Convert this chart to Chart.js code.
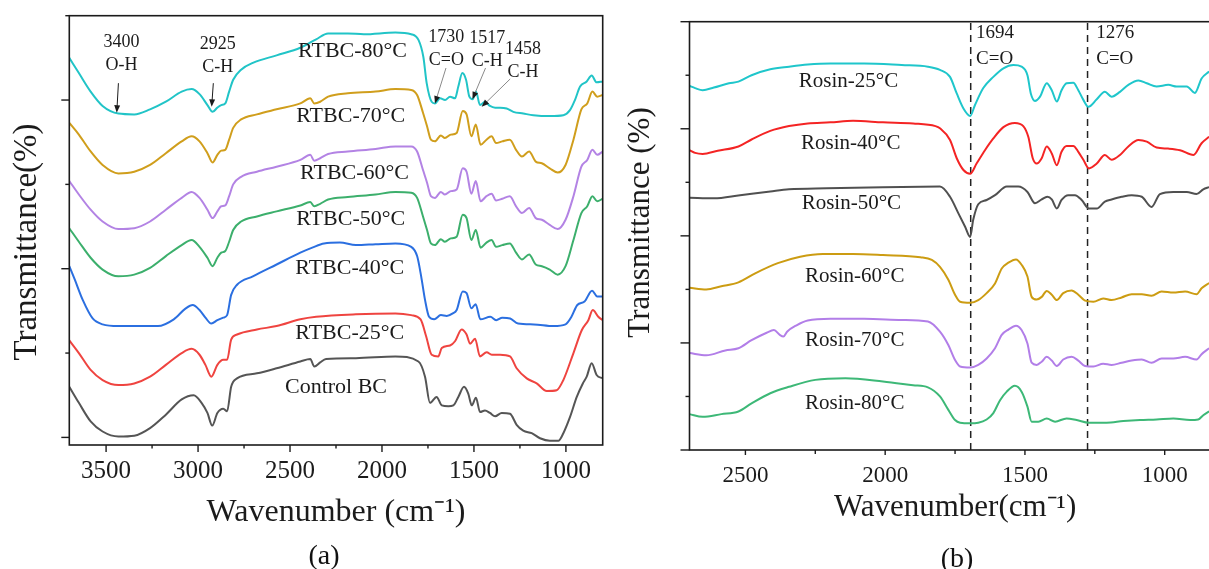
<!DOCTYPE html>
<html lang="en">
<head>
<meta charset="utf-8">
<title>FTIR spectra of RTBC and rosin</title>
<script src="https://cdn.jsdelivr.net/npm/chart.js@4.4.1/dist/chart.umd.min.js"></script>
<style>
  html, body { margin: 0; padding: 0; background: #fff; }
  body { position: relative; width: 1209px; height: 569px; overflow: hidden; }
  canvas { position: absolute; top: 0; }
  #chartA { left: 0; }
  #chartB { left: 620px; }
  .panel-tag {
    position: absolute;
    font: 28px 'Liberation Serif', 'Times New Roman', serif;
    color: #111;
    transform: translate(-50%, -50%);
  }
</style>
</head>
<body>
<canvas id="chartA" width="640" height="569"></canvas>
<canvas id="chartB" width="640" height="569"></canvas>
<div class="panel-tag" style="left:324px;top:555px">(a)</div>
<div class="panel-tag" style="left:957px;top:558px">(b)</div>
<script>
// ---------- Panel (a): RTBC series and control BC (wavenumber, cm-1 / offset transmittance) ----------
const wnRTBC80 = [3700, 3648, 3584, 3519, 3433, 3347, 3261, 3175, 3089, 3035, 2992, 2949, 2921, 2895, 2874, 2852,
  2831, 2809, 2766, 2702, 2573, 2444, 2358, 2293, 2186, 2099, 1927, 1841, 1801, 1775, 1757, 1730, 1712, 1684, 1657,
  1630, 1603, 1585, 1563, 1543, 1525, 1507, 1489, 1467, 1440, 1413, 1385, 1358, 1322, 1286, 1232, 1177, 1087, 1014,
  978, 951, 923, 887, 860, 833, 800];
const tRTBC80 = [4.50, 4.32, 4.10, 3.93, 3.84, 3.83, 3.89, 3.98, 4.10, 4.13, 4.07, 3.94, 3.86, 3.91, 3.94, 3.96,
  4.10, 4.24, 4.36, 4.44, 4.53, 4.62, 4.72, 4.79, 4.79, 4.78, 4.80, 4.78, 4.71, 4.51, 4.20, 3.98, 3.96, 4.02, 4.00,
  4.04, 4.02, 4.16, 4.32, 4.24, 4.04, 4.01, 4.10, 3.94, 3.98, 3.93, 3.91, 3.91, 3.90, 3.86, 3.84, 3.82, 3.81, 3.82,
  3.88, 4.00, 4.16, 4.22, 4.29, 4.21, 4.22];

// 70, 60 and 50 °C were read at the same wavenumbers
const wnRTBCmid = [3700, 3648, 3584, 3519, 3433, 3347, 3261, 3175, 3089, 3035, 2992, 2949, 2921, 2895, 2874, 2852,
  2831, 2809, 2766, 2680, 2573, 2444, 2390, 2368, 2336, 2293, 2186, 2035, 1927, 1841, 1809, 1777, 1755, 1734, 1712,
  1680, 1658, 1626, 1594, 1561, 1540, 1514, 1490, 1464, 1432, 1404, 1380, 1346, 1305, 1271, 1239, 1200, 1164, 1131,
  1088, 1045, 1002, 959, 916, 884, 856, 830, 800];
const tRTBC70 = [3.73, 3.59, 3.39, 3.23, 3.13, 3.15, 3.23, 3.37, 3.51, 3.57, 3.51, 3.37, 3.26, 3.35, 3.40, 3.41,
  3.53, 3.67, 3.77, 3.83, 3.89, 3.96, 4.02, 3.96, 3.98, 4.04, 4.08, 4.10, 4.13, 4.12, 4.06, 3.85, 3.69, 3.53, 3.51,
  3.58, 3.55, 3.59, 3.61, 3.87, 3.83, 3.57, 3.71, 3.47, 3.53, 3.57, 3.49, 3.51, 3.53, 3.41, 3.33, 3.39, 3.27, 3.25,
  3.19, 3.14, 3.23, 3.53, 3.89, 3.96, 4.10, 4.04, 4.06];
const tRTBC60 = [3.04, 2.88, 2.70, 2.56, 2.47, 2.48, 2.56, 2.70, 2.84, 2.91, 2.84, 2.70, 2.60, 2.68, 2.74, 2.75,
  2.86, 3.00, 3.09, 3.15, 3.21, 3.29, 3.35, 3.28, 3.31, 3.36, 3.39, 3.42, 3.45, 3.45, 3.39, 3.17, 3.02, 2.86, 2.84,
  2.91, 2.88, 2.92, 2.94, 3.19, 3.15, 2.89, 3.04, 2.80, 2.86, 2.89, 2.81, 2.83, 2.86, 2.74, 2.66, 2.72, 2.60, 2.58,
  2.52, 2.47, 2.58, 2.86, 3.21, 3.29, 3.41, 3.35, 3.39];
const tRTBC50 = [2.48, 2.32, 2.13, 1.99, 1.91, 1.93, 2.01, 2.15, 2.28, 2.34, 2.26, 2.13, 2.03, 2.13, 2.19, 2.21,
  2.32, 2.46, 2.56, 2.62, 2.68, 2.75, 2.79, 2.74, 2.77, 2.82, 2.85, 2.88, 2.91, 2.90, 2.84, 2.62, 2.46, 2.30, 2.28,
  2.35, 2.32, 2.36, 2.38, 2.64, 2.60, 2.34, 2.46, 2.25, 2.31, 2.34, 2.26, 2.28, 2.30, 2.19, 2.11, 2.17, 2.05, 2.03,
  1.99, 1.93, 2.03, 2.34, 2.66, 2.74, 2.86, 2.80, 2.83];

const wnRTBC40 = [3700, 3670, 3627, 3573, 3519, 3433, 3218, 3132, 3067, 3029, 2992, 2960, 2928, 2895, 2863, 2842,
  2820, 2788, 2702, 2573, 2444, 2379, 2315, 2229, 2142, 2035, 1927, 1841, 1809, 1787, 1766, 1744, 1716, 1680, 1648,
  1615, 1594, 1561, 1540, 1514, 1491, 1465, 1411, 1379, 1346, 1303, 1260, 1174, 1067, 1002, 970, 938, 899, 858, 830, 800];
const tRTBC40 = [2.03, 1.87, 1.63, 1.41, 1.34, 1.32, 1.32, 1.40, 1.53, 1.57, 1.51, 1.42, 1.35, 1.39, 1.42, 1.45,
  1.69, 1.81, 1.91, 2.05, 2.19, 2.25, 2.30, 2.31, 2.28, 2.29, 2.30, 2.26, 2.15, 1.91, 1.63, 1.43, 1.40, 1.45, 1.44,
  1.47, 1.51, 1.73, 1.71, 1.53, 1.58, 1.40, 1.43, 1.39, 1.42, 1.41, 1.35, 1.34, 1.32, 1.34, 1.43, 1.57, 1.61, 1.74, 1.67, 1.67];

const wnRTBC25 = [3700, 3648, 3584, 3519, 3433, 3347, 3261, 3175, 3089, 3035, 2992, 2960, 2928, 2895, 2863, 2842,
  2820, 2788, 2680, 2573, 2444, 2358, 2142, 1927, 1841, 1790, 1760, 1730, 1694, 1675, 1630, 1603, 1567, 1540, 1521,
  1494, 1467, 1431, 1403, 1358, 1304, 1268, 1213, 1159, 1104, 1050, 1014, 959, 914, 878, 854, 824, 800];
const tRTBC25 = [1.15, 1.00, 0.80, 0.68, 0.62, 0.64, 0.72, 0.86, 1.00, 1.05, 0.98, 0.86, 0.72, 0.86, 0.92, 0.92,
  1.16, 1.22, 1.28, 1.32, 1.40, 1.43, 1.46, 1.47, 1.45, 1.40, 1.20, 0.98, 0.96, 1.06, 1.09, 1.14, 1.28, 1.22, 1.11,
  1.17, 0.96, 1.01, 0.98, 0.98, 0.96, 0.82, 0.70, 0.64, 0.55, 0.56, 0.68, 1.00, 1.27, 1.39, 1.51, 1.43, 1.39];

const wnControl = [3700, 3648, 3584, 3519, 3433, 3347, 3261, 3175, 3089, 3024, 2981, 2949, 2923, 2895, 2863, 2842,
  2820, 2788, 2680, 2573, 2444, 2390, 2368, 2336, 2304, 2142, 1927, 1802, 1766, 1739, 1703, 1675, 1639, 1612, 1585,
  1554, 1531, 1512, 1489, 1467, 1440, 1413, 1385, 1349, 1304, 1268, 1232, 1186, 1141, 1087, 1041, 1014, 978, 941,
  908, 887, 860, 833, 800];
const tControl = [0.60, 0.41, 0.19, 0.07, 0.01, 0.02, 0.11, 0.27, 0.45, 0.50, 0.41, 0.29, 0.14, 0.29, 0.34, 0.31,
  0.60, 0.70, 0.76, 0.82, 0.90, 0.93, 0.84, 0.89, 0.93, 0.94, 0.96, 0.90, 0.72, 0.41, 0.48, 0.38, 0.37, 0.38, 0.48,
  0.60, 0.52, 0.38, 0.47, 0.30, 0.32, 0.29, 0.25, 0.29, 0.28, 0.15, 0.08, 0.05, -0.01, -0.04, -0.04, 0.05, 0.24, 0.48,
  0.64, 0.72, 0.88, 0.74, 0.70];

const ticksA = [3500, 3000, 2500, 2000, 1500, 1000];
const minorTicksA = [3250, 2750, 2250, 1750, 1250];

// ---------- Panel (b): rosin series ----------
const wnRosin25 = [2700, 2680, 2653, 2613, 2559, 2525, 2478, 2411, 2344, 2277, 2196, 2075, 1941, 1847, 1804, 1768,
  1744, 1720, 1696, 1679, 1649, 1613, 1577, 1541, 1512, 1491, 1479, 1464, 1446, 1422, 1404, 1386, 1369, 1351, 1327,
  1309, 1291, 1273, 1243, 1214, 1190, 1160, 1130, 1094, 1064, 1029, 987, 957, 921, 892, 868, 841];
const tRosin25 = [6.80, 6.76, 6.72, 6.77, 6.85, 6.88, 7.00, 7.11, 7.16, 7.20, 7.22, 7.22, 7.19, 7.16, 7.10, 6.97,
  6.66, 6.38, 6.24, 6.44, 6.76, 6.97, 7.13, 7.19, 7.16, 7.00, 6.66, 6.52, 6.60, 6.85, 6.72, 6.51, 6.72, 6.85, 6.86,
  6.72, 6.54, 6.41, 6.55, 6.69, 6.60, 6.69, 6.82, 6.90, 6.85, 6.79, 6.82, 6.79, 6.79, 6.67, 6.94, 7.07];

const wnRosin40 = [2700, 2680, 2653, 2599, 2525, 2478, 2411, 2344, 2277, 2196, 2115, 2008, 1900, 1820, 1804, 1768,
  1744, 1720, 1696, 1673, 1643, 1613, 1577, 1536, 1506, 1488, 1472, 1458, 1440, 1422, 1404, 1386, 1369, 1351, 1327,
  1309, 1291, 1271, 1243, 1214, 1190, 1160, 1130, 1094, 1064, 1029, 987, 945, 897, 868, 841];
const tRosin40 = [5.60, 5.55, 5.53, 5.59, 5.67, 5.80, 5.96, 6.05, 6.10, 6.12, 6.15, 6.12, 6.10, 6.05, 6.01, 5.79,
  5.45, 5.23, 5.16, 5.35, 5.60, 5.82, 6.03, 6.11, 6.05, 5.85, 5.45, 5.35, 5.45, 5.67, 5.54, 5.32, 5.57, 5.68, 5.68,
  5.57, 5.42, 5.26, 5.35, 5.51, 5.42, 5.51, 5.67, 5.79, 5.76, 5.65, 5.63, 5.60, 5.51, 5.73, 5.85];

const wnRosin50 = [2700, 2613, 2519, 2411, 2344, 2209, 2008, 1804, 1768, 1738, 1714, 1696, 1685, 1667, 1637, 1607,
  1565, 1524, 1491, 1464, 1440, 1420, 1404, 1386, 1369, 1345, 1321, 1297, 1271, 1243, 1214, 1190, 1154, 1118, 1082,
  1047, 1017, 969, 921, 886, 862, 841];
const tRosin50 = [4.71, 4.70, 4.76, 4.83, 4.87, 4.89, 4.91, 4.92, 4.73, 4.42, 4.17, 3.98, 4.30, 4.59, 4.67, 4.76,
  4.92, 4.92, 4.82, 4.61, 4.68, 4.73, 4.68, 4.51, 4.67, 4.76, 4.76, 4.67, 4.51, 4.51, 4.64, 4.68, 4.73, 4.76, 4.73,
  4.54, 4.78, 4.82, 4.82, 4.78, 4.87, 4.91];

const wnRosin60 = [2700, 2640, 2586, 2525, 2465, 2384, 2304, 2223, 2115, 2008, 1874, 1833, 1804, 1774, 1750, 1732,
  1696, 1667, 1637, 1607, 1583, 1559, 1532, 1512, 1491, 1476, 1458, 1440, 1422, 1404, 1386, 1363, 1333, 1309, 1285,
  1255, 1220, 1190, 1154, 1118, 1082, 1047, 1011, 969, 927, 886, 868, 841];
const tRosin60 = [3.03, 3.00, 3.06, 3.13, 3.30, 3.49, 3.61, 3.66, 3.66, 3.64, 3.60, 3.55, 3.42, 3.18, 2.90, 2.77,
  2.75, 2.80, 2.93, 3.11, 3.39, 3.50, 3.56, 3.46, 3.24, 2.86, 2.81, 2.86, 2.97, 2.90, 2.80, 2.93, 2.98, 2.90, 2.79,
  2.77, 2.83, 2.80, 2.85, 2.91, 2.91, 2.88, 2.96, 2.94, 2.96, 2.91, 3.02, 3.12];

const wnRosin70 = [2700, 2640, 2572, 2525, 2478, 2424, 2398, 2377, 2364, 2351, 2317, 2277, 2196, 2075, 1941, 1847,
  1804, 1774, 1750, 1732, 1696, 1667, 1637, 1607, 1583, 1559, 1532, 1512, 1491, 1476, 1458, 1440, 1422, 1404, 1386,
  1363, 1333, 1309, 1285, 1255, 1220, 1190, 1154, 1118, 1082, 1047, 1011, 969, 927, 886, 868, 841];
const tRosin70 = [1.81, 1.77, 1.86, 1.90, 2.05, 2.19, 2.24, 2.15, 2.12, 2.21, 2.33, 2.42, 2.45, 2.45, 2.43, 2.40,
  2.21, 1.96, 1.68, 1.56, 1.54, 1.59, 1.71, 1.90, 2.15, 2.25, 2.32, 2.24, 1.99, 1.63, 1.59, 1.65, 1.74, 1.67, 1.57,
  1.69, 1.74, 1.67, 1.57, 1.56, 1.61, 1.59, 1.63, 1.67, 1.69, 1.63, 1.71, 1.71, 1.74, 1.69, 1.79, 1.90];

const wnRosin80 = [2700, 2653, 2586, 2525, 2478, 2411, 2344, 2250, 2142, 2008, 1900, 1847, 1804, 1774, 1750, 1732,
  1696, 1667, 1637, 1613, 1589, 1565, 1536, 1512, 1491, 1476, 1452, 1422, 1392, 1351, 1315, 1271, 1208, 1148, 1088,
  1029, 969, 909, 880, 862, 841];
const tRosin80 = [0.67, 0.62, 0.67, 0.72, 0.87, 1.06, 1.18, 1.31, 1.34, 1.28, 1.21, 1.17, 1.00, 0.75, 0.56, 0.51,
  0.50, 0.51, 0.57, 0.69, 0.93, 1.09, 1.20, 1.09, 0.81, 0.53, 0.53, 0.59, 0.53, 0.59, 0.56, 0.51, 0.51, 0.54, 0.56,
  0.57, 0.59, 0.56, 0.57, 0.65, 0.72];

const ticksB = [2500, 2000, 1500, 1000];
const minorTicksB = [2250, 1750, 1250];
const bandLinesB = [1694, 1276];

// ---------- styling ----------
const SERIF = "'Liberation Serif', 'Times New Roman', serif";
const INK = '#1b1b1b';

const seriesA = [
  { name: 'RTBC-80°C', wn: wnRTBC80, t: tRTBC80, color: '#21c4c7', tag: [2160, 4.58] },
  { name: 'RTBC-70°C', wn: wnRTBCmid, t: tRTBC70, color: '#d09e1c', tag: [2170, 3.81] },
  { name: 'RTBC-60°C', wn: wnRTBCmid, t: tRTBC60, color: '#b383e4', tag: [2149, 3.13] },
  { name: 'RTBC-50°C', wn: wnRTBCmid, t: tRTBC50, color: '#3caf6c', tag: [2170, 2.59] },
  { name: 'RTBC-40°C', wn: wnRTBC40, t: tRTBC40, color: '#2b6fe0', tag: [2175, 2.01] },
  { name: 'RTBC-25°C', wn: wnRTBC25, t: tRTBC25, color: '#ef4440', tag: [2175, 1.24] },
  { name: 'Control BC', wn: wnControl, t: tControl, color: '#555555', tag: [2250, 0.60] },
];

const seriesB = [
  { name: 'Rosin-25°C', wn: wnRosin25, t: tRosin25, color: '#1fc6cb', tag: [2131, 6.88] },
  { name: 'Rosin-40°C', wn: wnRosin40, t: tRosin40, color: '#f42424', tag: [2123, 5.72] },
  { name: 'Rosin-50°C', wn: wnRosin50, t: tRosin50, color: '#505050', tag: [2121, 4.60] },
  { name: 'Rosin-60°C', wn: wnRosin60, t: tRosin60, color: '#cc9c12', tag: [2109, 3.25] },
  { name: 'Rosin-70°C', wn: wnRosin70, t: tRosin70, color: '#b27ee8', tag: [2109, 2.04] },
  { name: 'Rosin-80°C', wn: wnRosin80, t: tRosin80, color: '#3db877', tag: [2109, 0.87] },
];

// band notes: text centre (wn), text rows (t), optional arrow from -> to
const notesA = [
  { num: '3400', bond: 'O-H', wn: 3416, rows: [4.68, 4.41], from: [3433, 4.20], to: [3442, 3.85], stroke: INK },
  { num: '2925', bond: 'C-H', wn: 2893, rows: [4.66, 4.39], from: [2917, 4.20], to: [2926, 3.92], stroke: INK },
  { num: '1730', bond: 'C=O', wn: 1650, rows: [4.74, 4.47], from: [1652, 4.38], to: [1712, 3.96], stroke: '#8a8a8a' },
  { num: '1517', bond: 'C-H', wn: 1428, rows: [4.73, 4.46], from: [1437, 4.38], to: [1508, 4.01], stroke: '#8a8a8a' },
  { num: '1458', bond: 'C-H', wn: 1233, rows: [4.60, 4.33], from: [1303, 4.25], to: [1458, 3.92], stroke: '#8a8a8a' },
];
const notesB = [
  { num: '1694', bond: 'C=O', wn: 1675, rows: [7.78, 7.30], align: 'left' },
  { num: '1276', bond: 'C=O', wn: 1245, rows: [7.78, 7.30], align: 'left' },
];

function drawArrow(ctx, x1, y1, x2, y2, stroke) {
  const ang = Math.atan2(y2 - y1, x2 - x1);
  const head = 8;
  ctx.strokeStyle = stroke;
  ctx.lineWidth = 1;
  ctx.beginPath();
  ctx.moveTo(x1, y1);
  ctx.lineTo(x2 - Math.cos(ang) * head * 0.7, y2 - Math.sin(ang) * head * 0.7);
  ctx.stroke();
  ctx.fillStyle = INK;
  ctx.beginPath();
  ctx.moveTo(x2, y2);
  ctx.lineTo(x2 - head * Math.cos(ang - 0.38), y2 - head * Math.sin(ang - 0.38));
  ctx.lineTo(x2 - head * Math.cos(ang + 0.38), y2 - head * Math.sin(ang + 0.38));
  ctx.closePath();
  ctx.fill();
}

/**
 * Frame, outward ticks, rotated y title, curve names and band notes
 */
const decorPlugin = {
  id: 'decor',
  afterDatasetsDraw(chart, args, o) {
    const { ctx, chartArea: a, scales: { x, y } } = chart;
    ctx.save();

    ctx.strokeStyle = INK;
    ctx.lineWidth = 1.6;
    ctx.strokeRect(a.left, a.top, a.right - a.left, a.bottom - a.top);

    const mark = (x1, y1, x2, y2) => {
      ctx.beginPath();
      ctx.moveTo(x1, y1);
      ctx.lineTo(x2, y2);
      ctx.stroke();
    };
    ctx.lineWidth = 1.4;
    o.xMajor.forEach((v) => { const p = x.getPixelForValue(v); mark(p, a.bottom, p, a.bottom + o.xMajorLen); });
    o.xMinor.forEach((v) => { const p = x.getPixelForValue(v); mark(p, a.bottom, p, a.bottom + o.xMinorLen); });
    o.yMajor.forEach((v) => { const p = y.getPixelForValue(v); mark(a.left - o.yMajorLen, p, a.left, p); });
    o.yMinor.forEach((v) => { const p = y.getPixelForValue(v); mark(a.left - o.yMinorLen, p, a.left, p); });

    ctx.fillStyle = INK;
    ctx.textBaseline = 'middle';
    ctx.textAlign = 'center';

    // y title
    ctx.save();
    ctx.font = `${o.yTitleSize}px ${SERIF}`;
    ctx.translate(o.yTitleX, o.yTitleY);
    ctx.rotate(-Math.PI / 2);
    ctx.fillText(o.yTitle, 0, 0);
    ctx.restore();

    // curve names
    ctx.font = `${o.nameSize}px ${SERIF}`;
    o.series.forEach((s) => {
      ctx.fillText(s.name, x.getPixelForValue(s.tag[0]), y.getPixelForValue(s.tag[1]));
    });

    // band notes
    ctx.font = `${o.noteSize}px ${SERIF}`;
    o.notes.forEach((n) => {
      ctx.textAlign = n.align || 'center';
      const px = x.getPixelForValue(n.wn);
      ctx.fillStyle = INK;
      ctx.fillText(n.num, px, y.getPixelForValue(n.rows[0]));
      ctx.fillText(n.bond, px, y.getPixelForValue(n.rows[1]));
      if (n.from) {
        drawArrow(ctx,
          x.getPixelForValue(n.from[0]), y.getPixelForValue(n.from[1]),
          x.getPixelForValue(n.to[0]), y.getPixelForValue(n.to[1]), n.stroke);
      }
    });

    ctx.restore();
  },
};

function spectrum(s) {
  return {
    label: s.name,
    data: s.wn.map((w, i) => ({ x: w, y: s.t[i] })),
    borderColor: s.color,
    borderWidth: 2,
    pointRadius: 0,
    cubicInterpolationMode: 'monotone',
  };
}

function guideLine(wn, top) {
  return {
    label: `${wn}`,
    data: [{ x: wn, y: 0 }, { x: wn, y: top }],
    borderColor: '#222',
    borderWidth: 1.5,
    borderDash: [7, 5],
    pointRadius: 0,
    tension: 0,
  };
}

function panelOptions(cfg) {
  return {
    responsive: false,
    animation: false,
    events: [],
    layout: { padding: { top: cfg.padTop, right: cfg.padRight, left: 0, bottom: 0 } },
    plugins: {
      legend: { display: false },
      tooltip: { enabled: false },
      decor: cfg.decor,
    },
    scales: {
      x: {
        type: 'linear',
        reverse: true,
        min: cfg.xMin,
        max: cfg.xMax,
        grid: { display: false, drawTicks: false },
        border: { display: false },
        afterBuildTicks: (axis) => { axis.ticks = cfg.xTicks.map((v) => ({ value: v })); },
        afterFit: (axis) => { axis.height = cfg.xAxisHeight; },
        ticks: {
          color: INK,
          padding: cfg.tickPad,
          maxRotation: 0,
          autoSkip: false,
          font: { family: SERIF, size: cfg.tickSize },
          callback: (v) => String(v),
        },
        title: {
          display: true,
          text: cfg.xTitle,
          color: INK,
          font: { family: SERIF, size: cfg.xTitleSize },
          padding: { top: 0, bottom: cfg.xTitlePad },
        },
      },
      y: {
        type: 'linear',
        min: cfg.yMin,
        max: cfg.yMax,
        grid: { display: false, drawTicks: false },
        border: { display: false },
        ticks: { display: false },
        afterFit: (axis) => { axis.width = cfg.yAxisWidth; },
      },
    },
  };
}

new Chart(document.getElementById('chartA'), {
  type: 'line',
  data: { datasets: seriesA.map(spectrum) },
  options: panelOptions({
    padTop: 15.7, padRight: 37.3, yAxisWidth: 69.3, xAxisHeight: 124,
    xMin: 800, xMax: 3700, yMin: -0.09, yMax: 5,
    xTicks: ticksA, tickSize: 25, tickPad: 11.7,
    xTitle: 'Wavenumber (cm⁻¹)', xTitleSize: 32, xTitlePad: 37.3,
    decor: {
      xMajor: ticksA, xMinor: minorTicksA, xMajorLen: 7, xMinorLen: 3.5,
      yMajor: [0, 2, 4], yMinor: [1, 3, 5], yMajorLen: 8, yMinorLen: 4,
      yTitle: 'Transmittance(%)', yTitleSize: 33, yTitleX: 27, yTitleY: 242,
      series: seriesA, nameSize: 22,
      notes: notesA, noteSize: 18,
    },
  }),
  plugins: [decorPlugin],
});

new Chart(document.getElementById('chartB'), {
  type: 'line',
  data: { datasets: [...seriesB.map(spectrum), ...bandLinesB.map((w) => guideLine(w, 8))] },
  options: panelOptions({
    padTop: 21.7, padRight: 39.4, yAxisWidth: 69.5, xAxisHeight: 119,
    xMin: 800, xMax: 2700, yMin: 0, yMax: 8,
    xTicks: ticksB, tickSize: 23, tickPad: 11.9,
    xTitle: 'Wavenumber(cm⁻¹)', xTitleSize: 31, xTitlePad: 42.1,
    decor: {
      xMajor: ticksB, xMinor: minorTicksB, xMajorLen: 5, xMinorLen: 4,
      yMajor: [0, 2, 4, 6, 8], yMinor: [1, 3, 5, 7], yMajorLen: 9, yMinorLen: 4,
      yTitle: 'Transmittance (%)', yTitleSize: 31, yTitleX: 20.6, yTitleY: 222.5,
      series: seriesB, nameSize: 21,
      notes: notesB, noteSize: 19,
    },
  }),
  plugins: [decorPlugin],
});
</script>
</body>
</html>
